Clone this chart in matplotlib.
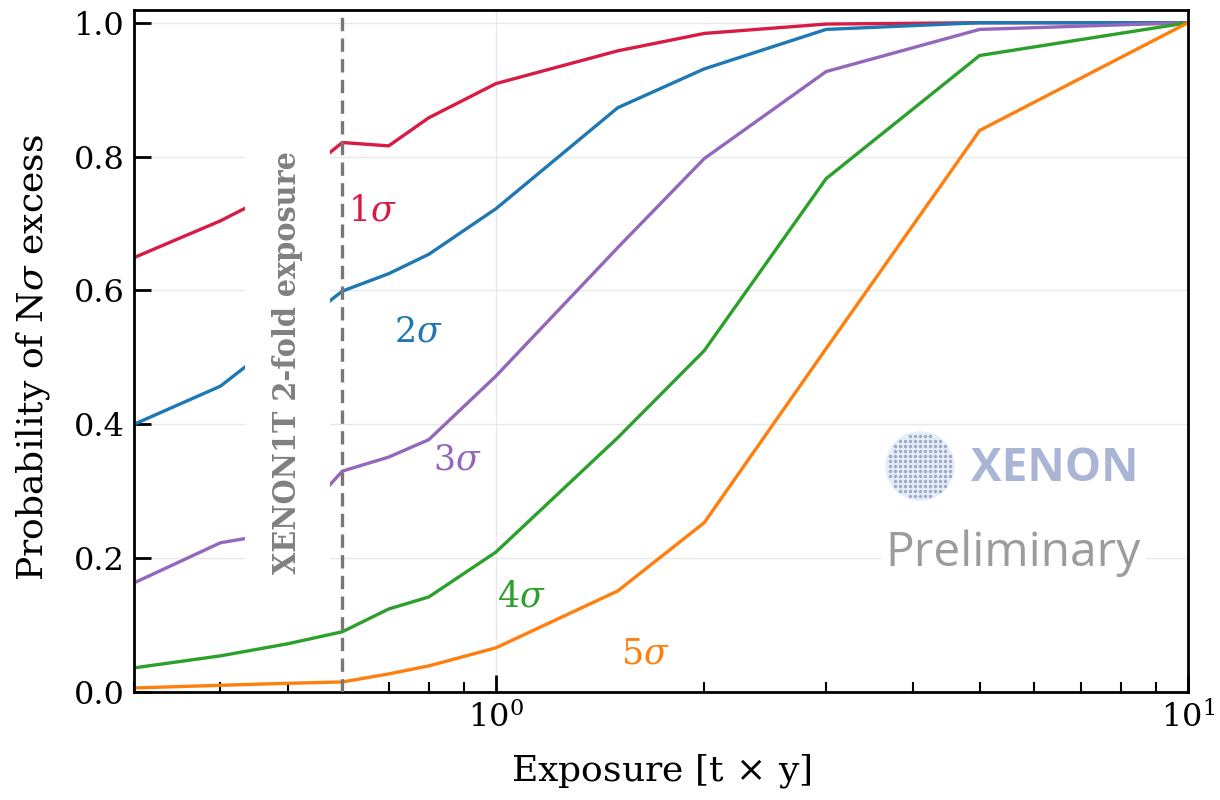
import numpy as np
import matplotlib
matplotlib.use("Agg")
import matplotlib.pyplot as plt

# ---- data ----
exposure = [0.3, 0.4, 0.5, 0.6, 0.7, 0.8, 1.0, 1.5, 2.0, 3.0, 5.0, 10.0]
p_1sigma = [0.649, 0.704, 0.755, 0.821, 0.816, 0.858, 0.909, 0.958, 0.984, 0.998, 1.0, 1.0]
p_2sigma = [0.400, 0.457, 0.535, 0.599, 0.625, 0.654, 0.722, 0.873, 0.931, 0.990, 1.0, 1.0]
p_3sigma = [0.163, 0.223, 0.240, 0.330, 0.351, 0.377, 0.472, 0.664, 0.797, 0.927, 0.990, 1.0]
p_4sigma = [0.036, 0.054, 0.072, 0.090, 0.124, 0.142, 0.209, 0.380, 0.510, 0.767, 0.951, 1.0]
p_5sigma = [0.006, 0.010, 0.013, 0.015, 0.027, 0.039, 0.066, 0.151, 0.253, 0.513, 0.839, 1.0]
series_labels = [r"$1\sigma$", r"$2\sigma$", r"$3\sigma$", r"$4\sigma$", r"$5\sigma$"]
series_colors = ["#d81b45", "#1f77b4", "#9467bd", "#2ca02c", "#ff7f0e"]
xenon1t_exposure = 0.6

plt.rcParams["font.family"] = ["DejaVu Serif"]
plt.rcParams["mathtext.fontset"] = "dejavuserif"

fig = plt.figure(figsize=(12.2, 8), dpi=100)
ax = fig.add_axes([134/1220, 1 - 692/800, (1188-134)/1220, (692-10)/800])

ax.set_xscale("log")
ax.set_xlim(0.3, 10)
ax.set_ylim(0, 1.019)

ax.grid(True, which="major", color="#e8e8e8", linewidth=1.0, zorder=0)
ax.set_axisbelow(True)

all_series = [p_1sigma, p_2sigma, p_3sigma, p_4sigma, p_5sigma]
for vals, col in zip(all_series, series_colors):
    ax.plot(exposure, vals, color=col, linewidth=2.4, zorder=2)

# curve labels
label_pos = [(0.663, 0.72), (0.772, 0.539), (0.879, 0.347), (1.09, 0.142), (1.645, 0.057)]
for (lx, ly), lab, col in zip(label_pos, series_labels, series_colors):
    ax.text(lx, ly, lab, color=col, fontsize=25, ha="center", va="center", zorder=3)

# XENON1T exposure marker
ax.axvline(xenon1t_exposure, color="#777777", linestyle=(0, (4, 2.2)), linewidth=2.4, zorder=5)
ax.text(0.5, 0.493, "XENON1T 2-fold exposure", rotation=90, color="#808080",
        fontsize=23, fontweight="bold", fontstretch="condensed",
        ha="center", va="center", zorder=4,
        bbox=dict(boxstyle="square,pad=0.85", facecolor="white", edgecolor="none"))

# ticks
ax.set_yticks([0.0, 0.2, 0.4, 0.6, 0.8, 1.0])
ax.tick_params(axis="both", which="major", direction="in", length=12, width=2,
               labelsize=23, top=False, right=False, pad=7)
ax.tick_params(axis="both", which="minor", direction="in", length=7, width=1.5,
               top=False, right=False)
for s in ax.spines.values():
    s.set_linewidth(2.0)

ax.set_xlabel(r"Exposure [t$\,\times\,$y]", fontsize=26)
ax.xaxis.set_label_coords(0.5, -0.088)
ax.set_ylabel(r"Probability of N$\sigma$ excess", fontsize=26)
ax.yaxis.set_label_coords(-0.078, 0.49)

# watermark
ax.text(0.794, 0.328, "XENON", transform=ax.transAxes, color="#aab5d6",
        fontsize=33, fontweight="bold", family="Open Sans", ha="left", va="center", zorder=1)
ax.text(0.713, 0.203, "Preliminary", transform=ax.transAxes, color="#9c9c9c",
        fontsize=34.5, family="Open Sans", ha="left", va="center", zorder=1,
        bbox=dict(boxstyle="square,pad=0.1", facecolor="white", edgecolor="none"))

# logo dots
lax = fig.add_axes([(920-37)/1220, 1 - (466+37)/800, 74/1220, 74/800])
lax.set_xlim(-7.4, 7.4)
lax.set_ylim(-7.4, 7.4)
lax.set_aspect("equal")
lax.axis("off")
lax.add_patch(plt.Circle((0, 0), 6.8, color="#e3eef8", zorder=0))
g = np.arange(-6, 7)
gx, gy = np.meshgrid(g, g)
m = gx**2 + gy**2 <= 6.6**2
lax.scatter(gx[m], gy[m], s=6, color="#a2a8c6", zorder=1, linewidths=0)

fig.savefig("out.png", dpi=100, facecolor="white")
